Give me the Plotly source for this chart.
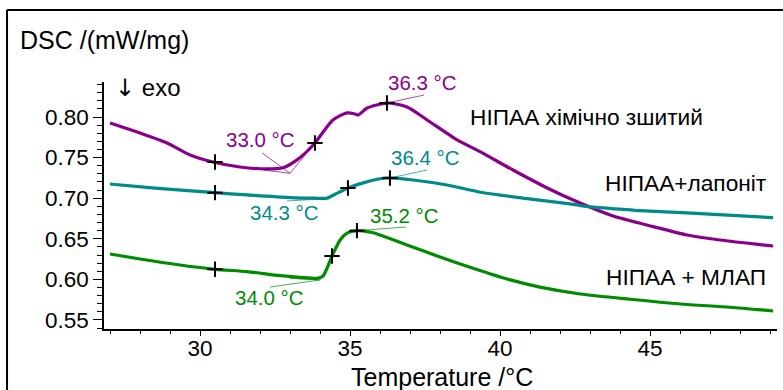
import plotly.graph_objects as go

# ---- data ----
t_purple = [27.0, 28.0, 28.9, 29.67, 30.43, 31.33, 32.23, 32.77, 33.0, 33.4, 33.83, 34.43, 34.9, 35.17,
            35.27, 35.57, 36.23, 36.9, 37.57, 38.57, 39.33, 40.43, 41.57, 42.67, 43.77, 45.1, 46.23, 47.33, 49.1]
dsc_purple = [0.7926, 0.7803, 0.768, 0.7532, 0.7446, 0.7384, 0.736, 0.7375, 0.7415, 0.752, 0.768, 0.7963, 0.805, 0.8037,
              0.8025, 0.811, 0.8172, 0.8123, 0.7963, 0.7717, 0.7573, 0.7347, 0.7126, 0.694, 0.678, 0.665, 0.6547, 0.6485, 0.6411]

t_teal = [27.0, 28.5, 30.5, 31.57, 33.0, 33.8, 34.23, 34.5, 34.93, 35.5, 36.0, 36.33, 37.1, 38.23, 39.4,
          40.9, 42.33, 43.0, 44.0, 44.67, 46.23, 49.1]
dsc_teal = [0.7175, 0.7125, 0.7068, 0.704, 0.7008, 0.700, 0.700, 0.7048, 0.7126, 0.7195, 0.724, 0.7249, 0.7224, 0.7163, 0.707,
            0.6995, 0.6929, 0.6892, 0.6865, 0.6846, 0.6818, 0.676]

t_green = [27.0, 28.0, 29.33, 30.5, 31.57, 32.67, 33.33, 33.9, 34.1, 34.4, 34.67, 34.9, 35.23, 35.77, 36.0,
           36.9, 38.0, 39.1, 40.23, 41.33, 42.67, 44.33, 46.0, 47.67, 49.1]
dsc_green = [0.6313, 0.6251, 0.6177, 0.6124, 0.6095, 0.6046, 0.6026, 0.6013, 0.604, 0.6288, 0.6485, 0.657, 0.660, 0.6575, 0.6547,
             0.6424, 0.6275, 0.6137, 0.6005, 0.5905, 0.582, 0.5755, 0.5697, 0.5657, 0.5611]

# characteristic points (+ markers)
mark_t = [30.5, 33.83, 36.23, 30.5, 34.93, 36.33, 30.5, 34.4, 35.23]
mark_dsc = [0.7446, 0.768, 0.8172, 0.7068, 0.7126, 0.7249, 0.6124, 0.6288, 0.660]

# tangent constructions / leader lines: (x list, y list, colour)
purple = "#8B008B"
teal = "#008B8B"
green = "#008C00"
helper_lines = [
    ([32.1, 33.0, 33.5], [0.7347, 0.7307, 0.753], purple),
    ([32.07, 33.0], [0.7557, 0.7307], purple),
    ([36.23, 37.47], [0.8172, 0.8271], purple),
    ([31.6, 34.3], [0.7025, 0.6995], teal),
    ([32.9, 34.3], [0.6966, 0.6995], teal),
    ([36.33, 37.57], [0.7249, 0.7347], teal),
    ([33.0, 34.0, 34.3], [0.6012, 0.5993, 0.621], green),
    ([32.33, 34.0], [0.5906, 0.5993], green),
    ([35.23, 36.87], [0.660, 0.6645], green),
]

temp_labels = ["33.0 °C", "36.3 °C", "34.3 °C", "36.4 °C", "35.2 °C", "34.0 °C"]
temp_label_t = [32.03, 37.4, 32.83, 37.53, 36.83, 32.33]
temp_label_y = [0.7729, 0.8419, 0.6818, 0.7507, 0.6793, 0.5771]
temp_label_col = [purple, purple, teal, teal, green, green]

series_names = ["НІПАА хімічно зшитий", "НІПАА+лапоніт", "НІПАА + МЛАП"]
series_label_t = [46.83, 48.93, 48.93]
series_label_y = [0.800, 0.7187, 0.603]

FONT = "Liberation Sans, Arial, sans-serif"

fig = go.Figure()
for xs, ys, c in helper_lines:
    fig.add_trace(go.Scatter(x=xs, y=ys, mode="lines", line=dict(color=c, width=1), opacity=0.7,
                             showlegend=False, hoverinfo="skip"))
for xs, ys, c in [(t_purple, dsc_purple, purple), (t_teal, dsc_teal, teal), (t_green, dsc_green, green)]:
    fig.add_trace(go.Scatter(x=xs, y=ys, mode="lines",
                             line=dict(color=c, width=3.2, shape="spline", smoothing=0.7),
                             showlegend=False))
fig.add_trace(go.Scatter(x=mark_t, y=mark_dsc, mode="markers",
                         marker=dict(symbol="cross-thin", size=11, line=dict(color="black", width=2)),
                         showlegend=False))

ann = []
for txt, x, y, c in zip(temp_labels, temp_label_t, temp_label_y, temp_label_col):
    ann.append(dict(x=x, y=y, xref="x", yref="y", text=txt, showarrow=False,
                    font=dict(family=FONT, size=20.5, color=c), xanchor="center", yanchor="middle"))
for txt, x, y in zip(series_names, series_label_t, series_label_y):
    ann.append(dict(x=x, y=y, xref="x", yref="y", text=txt, showarrow=False,
                    font=dict(family=FONT, size=22.7, color="black"), xanchor="right", yanchor="middle"))
# axis titles and "exo" marker
ann.append(dict(x=-0.128, y=1.170, xref="paper", yref="paper", text="DSC /(mW/mg)", showarrow=False,
                font=dict(family=FONT, size=25, color="black"), xanchor="left", yanchor="middle"))
ann.append(dict(x=0.0134, y=0.9757, xref="paper", yref="paper",
                text="<span style='font-family:DejaVu Sans'>\u2193</span> exo", showarrow=False,
                font=dict(family=FONT, size=24, color="black"), xanchor="left", yanchor="middle"))
ann.append(dict(x=0.5022, y=-0.1943, xref="paper", yref="paper", text="Temperature /°C", showarrow=False,
                font=dict(family=FONT, size=25, color="black"), xanchor="center", yanchor="middle"))

shapes = [
    dict(type="line", xref="paper", yref="paper", x0=-0.1441, x1=1.2, y0=1.2915, y1=1.2915,
         line=dict(color="black", width=2)),
    dict(type="line", xref="paper", yref="paper", x0=-0.1441, x1=-0.1441, y0=-0.5, y1=1.2915,
         line=dict(color="black", width=2)),
]

fig.update_layout(
    width=783, height=390,
    margin=dict(l=104, r=6, t=82, b=61),
    paper_bgcolor="white", plot_bgcolor="white",
    annotations=ann, shapes=shapes,
    font=dict(family=FONT, color="black"),
    xaxis=dict(range=[26.8, 49.23], tickvals=[30, 35, 40, 45], ticks="outside", ticklen=5, tickwidth=1,
               tickcolor="black", showline=True, linecolor="black", linewidth=1.5, showgrid=False,
               zeroline=False, tickfont=dict(size=22.5, family=FONT), ticklabelstandoff=-7,
               minor=dict(dtick=1, tick0=0, ticks="outside", ticklen=3, tickcolor="black", showgrid=False)),
    yaxis=dict(range=[0.5389, 0.8431], tickvals=[0.55, 0.60, 0.65, 0.70, 0.75, 0.80], tickformat=".2f",
               ticks="outside", ticklen=9, tickwidth=1, tickcolor="black", showline=True, linecolor="black",
               linewidth=1.5, showgrid=False, zeroline=False, tickfont=dict(size=22.5, family=FONT),
               minor=dict(dtick=0.01, tick0=0, ticks="outside", ticklen=5, tickcolor="black", showgrid=False)),
)

fig.write_html("out.html")
